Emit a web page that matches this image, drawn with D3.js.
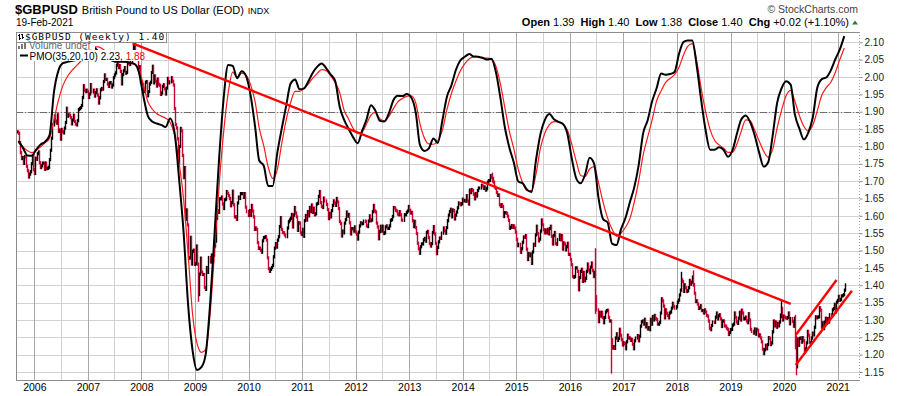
<!DOCTYPE html>
<html>
<head>
<meta charset="utf-8">
<script src="https://cdn.jsdelivr.net/npm/d3@7"></script>
<style>
body{margin:0;background:#fff;}
svg{display:block;font-family:Arial,"Liberation Sans",sans-serif;}
</style>
</head>
<body>
<svg></svg>
<script>
var WIDTH = 900;
var HEIGHT = 396;
var LEFT = 16, RIGHT = 859, TOP = 32, BOTTOM = 380;

// weekly closes of $GBPUSD, one array per calendar year (Friday bars)
var close2005 = [1.842,1.838,1.811,1.782,1.765,1.768,1.751,1.771,1.770,1.743,1.730,1.712,1.720,1.727,1.750,1.774,1.733,1.722];
var close2006 = [1.766,1.763,1.779,1.784, 1.753,1.739,1.744,1.752, 1.752,1.734,1.752,1.736,1.737, 1.740,1.762,1.789,1.824, 1.862,1.888,1.873,1.867, 1.891,1.843,1.847,1.821,1.849, 1.842,1.839,1.853,1.869, 1.910,1.887,1.891,1.890, 1.883,1.865,1.876,1.890,1.872, 1.864,1.862,1.874,1.906, 1.909,1.912,1.918,1.941, 1.975,1.962,1.958,1.962,1.958];
var close2007 = [1.941,1.951,1.978,1.957, 1.962,1.945,1.955,1.963, 1.948,1.925,1.940,1.963,1.967, 1.965,1.987,2.006,1.993, 1.993,1.980,1.973,1.983, 1.984,1.971,1.977,1.998,2.006, 2.012,2.034,2.051,2.027, 2.033,2.016,1.980,2.007,2.018, 2.027,2.011,2.013,2.041, 2.039,2.036,2.042,2.058, 2.089,2.093,2.055,2.064,2.055, 2.026,2.030,1.985,1.985];
var close2008 = [1.978,1.958,1.961,1.985, 1.987,1.946,1.958,1.980,1.985, 2.013,2.031,1.983,2.003, 1.988,1.974,1.994,1.979, 1.976,1.950,1.954,1.973,1.978, 1.966,1.951,1.968,1.996, 1.983,1.986,1.998,1.988, 1.977,1.909,1.863,1.853,1.822, 1.752,1.800,1.852,1.845, 1.774,1.710,1.739,1.590,1.617, 1.574,1.478,1.479,1.538, 1.461,1.498,1.501,1.460];
var close2009 = [1.462,1.513,1.461,1.373,1.432, 1.478,1.438,1.431,1.431, 1.394,1.388,1.451,1.437, 1.480,1.467,1.487,1.468, 1.487,1.513,1.527,1.593,1.615, 1.610,1.649,1.649,1.654, 1.634,1.621,1.646,1.648,1.670, 1.665,1.658,1.650,1.629, 1.638,1.671,1.632,1.597, 1.597,1.590,1.637,1.654,1.650, 1.664,1.664,1.664,1.653, 1.664,1.625,1.612,1.601];
var close2010 = [1.615,1.601,1.630,1.614,1.597, 1.561,1.565,1.561,1.523, 1.506,1.507,1.501,1.495, 1.528,1.537,1.538,1.540,1.530, 1.479,1.448,1.440,1.446, 1.451,1.457,1.482,1.507, 1.520,1.510,1.530,1.540,1.569, 1.595,1.561,1.552,1.551, 1.545,1.540,1.565,1.583, 1.588,1.593,1.604,1.568,1.602, 1.624,1.608,1.597,1.558, 1.580,1.579,1.551,1.546,1.561];
var close2011 = [1.541,1.586,1.601,1.588, 1.612,1.600,1.624,1.612, 1.631,1.610,1.622,1.603, 1.606,1.634,1.636,1.656,1.670, 1.638,1.627,1.624,1.651, 1.643,1.633,1.618,1.592, 1.607,1.597,1.615,1.630,1.643, 1.637,1.630,1.650,1.640, 1.621,1.584,1.578,1.542,1.556, 1.551,1.579,1.589,1.611, 1.599,1.604,1.580,1.548, 1.563,1.563,1.556,1.568,1.553];
var close2012 = [1.547,1.533,1.553,1.571, 1.580,1.577,1.578,1.585, 1.584,1.571,1.569,1.585,1.600, 1.586,1.588,1.612,1.630, 1.614,1.611,1.579,1.568, 1.534,1.555,1.570,1.556,1.570, 1.549,1.551,1.568,1.571, 1.564,1.564,1.571,1.587,1.589, 1.598,1.624,1.623,1.616, 1.614,1.605,1.603,1.612, 1.603,1.588,1.587,1.603,1.603, 1.610,1.614,1.627,1.616];
var close2013 = [1.608,1.610,1.586,1.569, 1.584,1.566,1.549,1.521, 1.505,1.492,1.511,1.519,1.519, 1.531,1.535,1.527,1.552, 1.555,1.537,1.520,1.513,1.520, 1.552,1.569,1.548,1.521, 1.491,1.509,1.525,1.536, 1.535,1.550,1.565,1.557,1.550, 1.566,1.586,1.602,1.612, 1.619,1.597,1.617,1.615, 1.591,1.602,1.611,1.623,1.637, 1.635,1.632,1.635,1.648];
var close2014 = [1.643,1.644,1.642,1.658,1.643, 1.634,1.674,1.667,1.676, 1.673,1.662,1.649,1.664, 1.657,1.673,1.680,1.680, 1.688,1.686,1.679,1.683,1.674, 1.678,1.697,1.701,1.702, 1.716,1.711,1.708,1.697, 1.683,1.679,1.667,1.659,1.660, 1.632,1.627,1.632,1.627, 1.598,1.609,1.609,1.607,1.599, 1.587,1.564,1.567,1.572, 1.567,1.571,1.565,1.553];
var close2015 = [1.532,1.514,1.518,1.495,1.505, 1.524,1.539,1.538,1.543, 1.504,1.474,1.491,1.485, 1.490,1.463,1.496,1.518, 1.515,1.545,1.570,1.549,1.528, 1.533,1.556,1.588,1.574, 1.560,1.551,1.559,1.551,1.561, 1.548,1.563,1.570,1.541, 1.519,1.543,1.552,1.520, 1.518,1.532,1.545,1.531,1.543, 1.504,1.522,1.519,1.502, 1.511,1.521,1.489,1.489];
var close2016 = [1.474,1.459,1.426,1.423,1.425, 1.450,1.450,1.440,1.387, 1.422,1.440,1.446,1.411, 1.437,1.413,1.420,1.440,1.461, 1.444,1.436,1.452,1.464, 1.442,1.425,1.437,1.367, 1.329,1.295,1.322,1.311,1.322, 1.307,1.292,1.307,1.323, 1.327,1.328,1.307,1.297,1.297, 1.243,1.219,1.223,1.218, 1.248,1.260,1.241,1.247, 1.273,1.256,1.243,1.228,1.234];
var close2017 = [1.232,1.217,1.237,1.256, 1.248,1.248,1.241,1.244, 1.230,1.217,1.240,1.248,1.255, 1.240,1.253,1.282,1.295, 1.297,1.288,1.302,1.280, 1.289,1.274,1.278,1.272,1.302, 1.288,1.310,1.300,1.313, 1.304,1.301,1.288,1.288, 1.293,1.320,1.361,1.355,1.340, 1.306,1.329,1.319,1.313, 1.306,1.320,1.323,1.334, 1.348,1.339,1.334,1.338,1.351];
var close2018 = [1.357,1.372,1.386,1.416, 1.411,1.382,1.401,1.393, 1.382,1.384,1.393,1.414,1.403, 1.409,1.424,1.402,1.377, 1.353,1.355,1.346,1.333, 1.335,1.341,1.327,1.327,1.320, 1.329,1.323,1.313,1.311, 1.297,1.276,1.272,1.284,1.294, 1.293,1.308,1.320,1.303, 1.312,1.315,1.303,1.281, 1.297,1.297,1.283,1.282,1.276, 1.273,1.258,1.264,1.272];
var close2019 = [1.273,1.285,1.288,1.320, 1.307,1.294,1.290,1.305, 1.322,1.300,1.328,1.320,1.303, 1.304,1.308,1.297,1.292, 1.318,1.300,1.273,1.267,1.262, 1.274,1.259,1.273,1.270, 1.254,1.257,1.248,1.237, 1.216,1.203,1.214,1.227,1.217, 1.229,1.249,1.247,1.229, 1.234,1.266,1.297,1.283, 1.294,1.279,1.290,1.283,1.294, 1.314,1.333,1.300,1.311];
var close2020 = [1.308,1.306,1.305,1.307,1.320, 1.289,1.304,1.296,1.282, 1.305,1.229,1.165,1.245, 1.227,1.247,1.248,1.236, 1.249,1.240,1.211,1.217,1.234, 1.267,1.256,1.235,1.234, 1.248,1.262,1.257,1.279,1.309, 1.306,1.308,1.309,1.335, 1.328,1.279,1.292,1.275, 1.294,1.305,1.291,1.304,1.294, 1.315,1.312,1.329,1.333, 1.345,1.323,1.351,1.356];
var close2021 = [1.368,1.357,1.359,1.369,1.370, 1.373,1.386,1.401];

var weeklyCloses = [
	[2005, close2005], [2006, close2006], [2007, close2007], [2008, close2008],
	[2009, close2009], [2010, close2010], [2011, close2011], [2012, close2012],
	[2013, close2013], [2014, close2014], [2015, close2015], [2016, close2016],
	[2017, close2017], [2018, close2018], [2019, close2019], [2020, close2020],
	[2021, close2021]
];
var firstWeek = '2005-09-02';

// weeks whose range reached well past the closes: [week, low, high]
var weeklyExtremes = [
	['2007-11-09', 2.060, 2.100],
	['2009-01-23', 1.357, 1.440],
	['2014-07-18', 1.700, 1.720],
	['2016-06-24', 1.322, 1.502],
	['2016-10-07', 1.150, 1.275],
	['2018-01-26', 1.390, 1.434],
	['2018-04-20', 1.400, 1.438],
	['2019-12-13', 1.310, 1.352],
	['2020-03-13', 1.220, 1.310],
	['2020-03-20', 1.145, 1.250]
];

// PMO(35,20,10) and its signal, one value per month from Sep 2005
var pmoStart = '2005-09-15';
var pmoLine = [
	-0.86,-1.06,-1.29,-1.30,
	-1.11,-0.96,-0.89,-0.69,0.58,1.22,1.43,1.47,1.50,1.53,1.64,1.82,
	1.91,1.89,1.76,1.64,1.55,1.51,1.47,1.47,1.47,1.44,1.41,1.17,
	0.46,-0.13,-0.29,-0.35,-0.39,-0.45,-0.20,-0.63,-2.01,-3.55,-5.70,-7.03,
	-7.62,-7.53,-7.15,-5.61,-3.55,-1.34,0.38,1.38,1.35,0.99,1.19,1.05,
	0.49,-0.45,-1.44,-1.60,-2.19,-2.19,-1.25,-0.51,0.18,0.83,0.95,0.66,
	0.69,0.91,1.15,1.33,1.42,1.28,1.10,0.90,0.14,-0.24,-0.51,-0.75,
	-0.93,-0.56,-0.24,0.19,0.03,-0.27,-0.29,-0.05,0.34,0.47,0.46,0.52,
	0.42,-0.04,-0.98,-1.16,-1.08,-0.79,-0.92,-0.26,0.44,0.77,1.23,1.51,
	1.62,1.70,1.63,1.62,1.59,1.54,1.56,1.17,0.40,-0.46,-1.06,-1.50,
	-2.06,-2.12,-2.30,-2.37,-1.44,-0.66,-0.24,-0.07,-0.22,-0.30,-0.36,-0.64,
	-1.39,-1.98,-2.11,-1.84,-1.36,-1.54,-2.55,-3.17,-3.27,-3.89,-3.93,-3.47,
	-3.13,-2.65,-2.24,-1.57,-0.64,-0.25,0.30,0.69,1.13,1.09,1.11,1.17,
	1.71,2.06,2.10,2.10,1.37,0.34,-0.54,-1.12,-1.12,-1.05,-1.13,-1.33,
	-1.13,-0.63,-0.23,-0.11,-0.31,-0.70,-1.20,-1.62,-1.49,-0.72,0.26,0.69,
	0.90,0.80,-0.08,-0.50,-0.82,-0.61,-0.17,0.71,0.96,1.01,1.22,1.54,
	1.83,2.23
];
var pmoSignal = [
	-0.91,-1.04,-1.15,-1.21,
	-1.14,-1.03,-0.92,-0.78,-0.24,0.34,0.77,1.04,1.22,1.35,1.50,1.69,
	1.84,1.91,1.91,1.84,1.73,1.63,1.55,1.50,1.46,1.45,1.40,1.24,
	0.80,0.29,0.08,-0.06,-0.13,-0.19,-0.31,-0.70,-1.52,-2.58,-4.20,-5.95,
	-6.84,-7.10,-7.02,-5.91,-4.07,-2.14,-0.61,0.55,1.17,1.02,1.14,1.08,
	0.80,0.29,-0.48,-1.01,-1.63,-1.97,-1.73,-0.95,-0.24,0.27,0.60,0.60,
	0.69,0.83,0.99,1.13,1.24,1.21,1.06,0.86,0.56,0.04,-0.22,-0.49,
	-0.64,-0.60,-0.37,-0.10,-0.02,-0.21,-0.27,-0.14,0.09,0.29,0.39,0.45,
	0.47,0.25,-0.35,-0.78,-0.95,-0.96,-0.85,-0.55,0.06,0.53,0.90,1.20,
	1.42,1.56,1.62,1.62,1.58,1.58,1.55,1.34,0.81,0.12,-0.58,-1.09,
	-1.71,-2.11,-2.33,-2.33,-1.85,-1.07,-0.63,-0.38,-0.29,-0.30,-0.36,-0.54,
	-0.97,-1.48,-1.88,-1.91,-1.69,-1.62,-2.10,-2.67,-3.14,-3.46,-3.67,-3.58,
	-3.41,-3.14,-2.68,-2.04,-1.28,-0.75,-0.25,0.32,0.62,0.86,0.98,1.09,
	1.31,1.68,1.93,2.01,1.51,0.69,0.01,-0.53,-0.85,-0.98,-1.08,-1.20,
	-1.19,-0.94,-0.58,-0.24,-0.27,-0.55,-0.86,-1.16,-1.34,-1.12,-0.48,0.04,
	0.47,0.63,0.31,-0.12,-0.43,-0.57,-0.40,0.03,0.49,0.71,0.87,1.15,
	1.53,1.88
];

// hand-drawn lines: [[date, price], [date, price]]
var trendLines = [
	[['2007-11-02', 2.097], ['2020-02-16', 1.346]],
	[['2020-03-21', 1.2565], ['2020-12-24', 1.415]],
	[['2020-03-21', 1.170], ['2021-04-08', 1.384]]
];

var priceTicks = [1.15,1.20,1.25,1.30,1.35,1.40,1.45,1.50,1.55,1.60,1.65,1.70,1.75,1.80,1.85,1.90,1.95,2.00,2.05,2.10];
var years = [2006,2007,2008,2009,2010,2011,2012,2013,2014,2015,2016,2017,2018,2019,2020,2021];

var parseDay = d3.utcParse('%Y-%m-%d');
var formatDay = d3.utcFormat('%Y-%m-%d');

var xScale = d3.scaleUtc()
	.domain([parseDay('2006-01-01'), parseDay('2021-01-01')])
	.range([34.3, 837.7]);
var yScale = d3.scaleLinear().domain([1.15, 2.10]).range([372, 42.3]);
var pmoScale = d3.scaleLinear().domain([-7.67, 2.23]).range([371.7, 36.1]);

var svg = d3.select('svg')
	.attr('width', WIDTH)
	.attr('height', HEIGHT);

svg.append('rect').attr('width', WIDTH).attr('height', HEIGHT).attr('fill', '#fff');

svg.append('clipPath').attr('id', 'plot-clip')
	.append('rect')
	.attr('x', LEFT).attr('y', TOP)
	.attr('width', RIGHT - LEFT).attr('height', BOTTOM - TOP);

// grid
var grid = svg.append('g').attr('id', 'grid').attr('shape-rendering', 'crispEdges');
grid.selectAll('line.h').data(priceTicks).enter().append('line')
	.attr('class', 'h')
	.attr('x1', LEFT).attr('x2', RIGHT)
	.attr('y1', function(d){ return Math.round(yScale(d)) + 0.5; })
	.attr('y2', function(d){ return Math.round(yScale(d)) + 0.5; })
	.attr('stroke', '#d2d2d2');

var midYears = years.map(function(y){ return parseDay(y + '-07-01'); })
	.filter(function(d){ return xScale(d) < RIGHT; });
grid.selectAll('line.half').data(midYears).enter().append('line')
	.attr('class', 'half')
	.attr('x1', function(d){ return Math.round(xScale(d)) + 0.5; })
	.attr('x2', function(d){ return Math.round(xScale(d)) + 0.5; })
	.attr('y1', TOP).attr('y2', BOTTOM)
	.attr('stroke', '#d2d2d2');
grid.selectAll('line.year').data(years).enter().append('line')
	.attr('class', 'year')
	.attr('x1', function(d){ return Math.round(xScale(parseDay(d + '-01-01'))) + 0.5; })
	.attr('x2', function(d){ return Math.round(xScale(parseDay(d + '-01-01'))) + 0.5; })
	.attr('y1', TOP).attr('y2', BOTTOM)
	.attr('stroke', '#a9a9a9');

// PMO zero line
svg.append('line')
	.attr('x1', LEFT).attr('x2', RIGHT)
	.attr('y1', Math.round(pmoScale(0)) + 0.5).attr('y2', Math.round(pmoScale(0)) + 0.5)
	.attr('stroke', '#6e6e6e')
	.attr('stroke-dasharray', '7,2,1,2');

// weekly bars
var bars = [];
weeklyCloses.forEach(function(pair){
	var year = pair[0];
	var start = year === 2005 ? parseDay(firstWeek) : d3.utcFriday.ceil(new Date(Date.UTC(year, 0, 1)));
	pair[1].forEach(function(c, i){
		bars.push({date: d3.utcDay.offset(start, 7 * i), close: c});
	});
});
var extremeByDay = {};
weeklyExtremes.forEach(function(e){ extremeByDay[e[0]] = e; });
bars.forEach(function(b, i){
	var prev = i ? bars[i - 1].close : b.close;
	b.down = b.close < prev;
	b.low = Math.min(prev, b.close);
	b.high = Math.max(prev, b.close);
	var e = extremeByDay[formatDay(b.date)];
	if(e){
		b.low = Math.min(b.low, e[1]);
		b.high = Math.max(b.high, e[2]);
	}
});

var plot = svg.append('g').attr('clip-path', 'url(#plot-clip)');

// bar ends get a little overhang, like the open/close ticks of an OHLC bar
plot.append('g').attr('id', 'bars')
	.selectAll('line').data(bars).enter().append('line')
	.attr('x1', function(d){ return Math.round(xScale(d.date)) + 0.5; })
	.attr('x2', function(d){ return Math.round(xScale(d.date)) + 0.5; })
	.attr('y1', function(d){ return yScale(d.high) - 1.6; })
	.attr('y2', function(d){ return yScale(d.low) + 1.6; })
	.attr('stroke', function(d){ return d.down ? '#cc0033' : '#000'; })
	.attr('stroke-width', 1.4);

// PMO lines
var pmoDates = pmoLine.map(function(v, i){ return d3.utcMonth.offset(parseDay(pmoStart), i); });
var pmoPath = d3.line()
	.x(function(d, i){ return xScale(pmoDates[i]); })
	.y(function(d){ return pmoScale(d); })
	.curve(d3.curveMonotoneX);

plot.append('path').datum(pmoSignal)
	.attr('d', pmoPath)
	.attr('fill', 'none')
	.attr('stroke', '#ff1a1a')
	.attr('stroke-width', 1.2);
plot.append('path').datum(pmoLine)
	.attr('d', pmoPath)
	.attr('fill', 'none')
	.attr('stroke', '#000')
	.attr('stroke-width', 2);

// trend lines
plot.selectAll('line.trend').data(trendLines).enter().append('line')
	.attr('class', 'trend')
	.attr('x1', function(d){ return xScale(parseDay(d[0][0])); })
	.attr('y1', function(d){ return yScale(d[0][1]); })
	.attr('x2', function(d){ return xScale(parseDay(d[1][0])); })
	.attr('y2', function(d){ return yScale(d[1][1]); })
	.attr('stroke', '#ff0000')
	.attr('stroke-width', 2.4);

// frame
var frame = svg.append('g').attr('shape-rendering', 'crispEdges');
frame.append('line').attr('x1', LEFT + 0.5).attr('x2', LEFT + 0.5).attr('y1', TOP).attr('y2', BOTTOM).attr('stroke', '#8c8c8c');
frame.append('line').attr('x1', LEFT).attr('x2', RIGHT).attr('y1', TOP + 0.5).attr('y2', TOP + 0.5).attr('stroke', '#8c8c8c');
frame.append('line').attr('x1', LEFT).attr('x2', RIGHT).attr('y1', BOTTOM + 0.5).attr('y2', BOTTOM + 0.5).attr('stroke', '#8c8c8c');
frame.append('line').attr('x1', RIGHT + 0.5).attr('x2', RIGHT + 0.5).attr('y1', TOP).attr('y2', BOTTOM + 1)
	.attr('stroke', '#9a9a9a').attr('stroke-dasharray', '1,2');

// axes
var rightAxis = d3.axisRight(yScale)
	.tickValues(priceTicks)
	.tickFormat(d3.format('.2f'))
	.tickSize(3)
	.tickSizeOuter(0)
	.tickPadding(2);
var yAxisG = svg.append('g')
	.attr('transform', 'translate(' + (RIGHT + 0.5) + ',0)')
	.call(rightAxis);
yAxisG.select('.domain').remove();
yAxisG.selectAll('line').attr('stroke', '#888');
yAxisG.selectAll('text').attr('font-size', '10px').attr('fill', '#222')
	.attr('font-family', 'Arial, "Liberation Sans", sans-serif');

var bottomAxis = d3.axisBottom(xScale)
	.tickValues(years.map(function(y){ return parseDay(y + '-01-01'); }))
	.tickFormat(d3.utcFormat('%Y'))
	.tickSize(0)
	.tickPadding(4);
var xAxisG = svg.append('g')
	.attr('transform', 'translate(0,' + BOTTOM + ')')
	.call(bottomAxis);
xAxisG.select('.domain').remove();
xAxisG.selectAll('text').attr('font-size', '10.5px').attr('fill', '#000')
	.attr('font-family', 'Arial, "Liberation Sans", sans-serif');

// header
var head = svg.append('text').attr('x', 15).attr('y', 14).attr('fill', '#000');
head.append('tspan').attr('font-weight', 'bold').attr('font-size', '13px').text('$GBPUSD');
head.append('tspan').attr('font-size', '11px').attr('dx', 4).text('British Pound to US Dollar (EOD)');
head.append('tspan').attr('font-size', '9px').attr('dx', 4).text('INDX');

svg.append('text').attr('x', 16).attr('y', 26).attr('font-size', '10px').attr('fill', '#000')
	.text('19-Feb-2021');

svg.append('text').attr('x', 858).attr('y', 12.5).attr('text-anchor', 'end')
	.attr('font-size', '10.5px').attr('fill', '#444')
	.text('\u00a9 StockCharts.com');

var quote = svg.append('text').attr('x', 849).attr('y', 25.5).attr('text-anchor', 'end')
	.attr('font-size', '11px').attr('fill', '#000').style('white-space', 'pre');
[['Open', ' 1.39  '], ['High', ' 1.40  '], ['Low', ' 1.38  '], ['Close', ' 1.40  '], ['Chg', ' +0.02 (+1.10%)']]
	.forEach(function(p){
		quote.append('tspan').attr('font-weight', 'bold').text(p[0]);
		quote.append('tspan').text(p[1]);
	});
svg.append('path').attr('d', 'M852,24.5L855,20.5L858,24.5Z').attr('fill', '#2e7d32');

// legend
svg.append('rect').attr('x', 17).attr('y', 42.5).attr('width', 78).attr('height', 7).attr('fill', '#fff');
svg.append('rect').attr('x', 17).attr('y', 50).attr('width', 124).attr('height', 11).attr('fill', '#fff');
svg.append('rect').attr('x', 16.5).attr('y', 32.5).attr('width', 150).attr('height', 10)
	.attr('fill', '#fff').attr('stroke', '#8c8c8c').attr('shape-rendering', 'crispEdges');
svg.append('path').attr('d', 'M19.5,34v6M18,35.5h1.5M19.5,38.5h1.5M22.5,33.5v5M21,34.5h1.5M22.5,37h1.5')
	.attr('stroke', '#000').attr('fill', 'none').attr('shape-rendering', 'crispEdges');
svg.append('text').attr('x', 25).attr('y', 39.5)
	.attr('font-family', '"DejaVu Sans Mono", monospace').attr('font-size', '9.5px')
	.attr('letter-spacing', '0.95').attr('fill', '#000')
	.text('$GBPUSD (Weekly) 1.40');

svg.append('path').attr('d', 'M18.5,48.5v-3M21.5,48.5v-5M24.5,48.5v-6')
	.attr('stroke', '#777').attr('stroke-width', 2).attr('fill', 'none').attr('shape-rendering', 'crispEdges');
svg.append('text').attr('x', 29).attr('y', 49).attr('font-size', '10px').attr('fill', '#666')
	.text('Volume undef');

svg.append('line').attr('x1', 20).attr('x2', 28).attr('y1', 55.5).attr('y2', 55.5)
	.attr('stroke', '#000').attr('stroke-width', 2);
var pmoLabel = svg.append('text').attr('x', 29.5).attr('y', 59.5).attr('font-size', '10px').attr('fill', '#000');
pmoLabel.append('tspan').text('PMO(35,20,10) 2.23, ');
pmoLabel.append('tspan').attr('fill', '#ff0000').text('1.88');
</script>
</body>
</html>
